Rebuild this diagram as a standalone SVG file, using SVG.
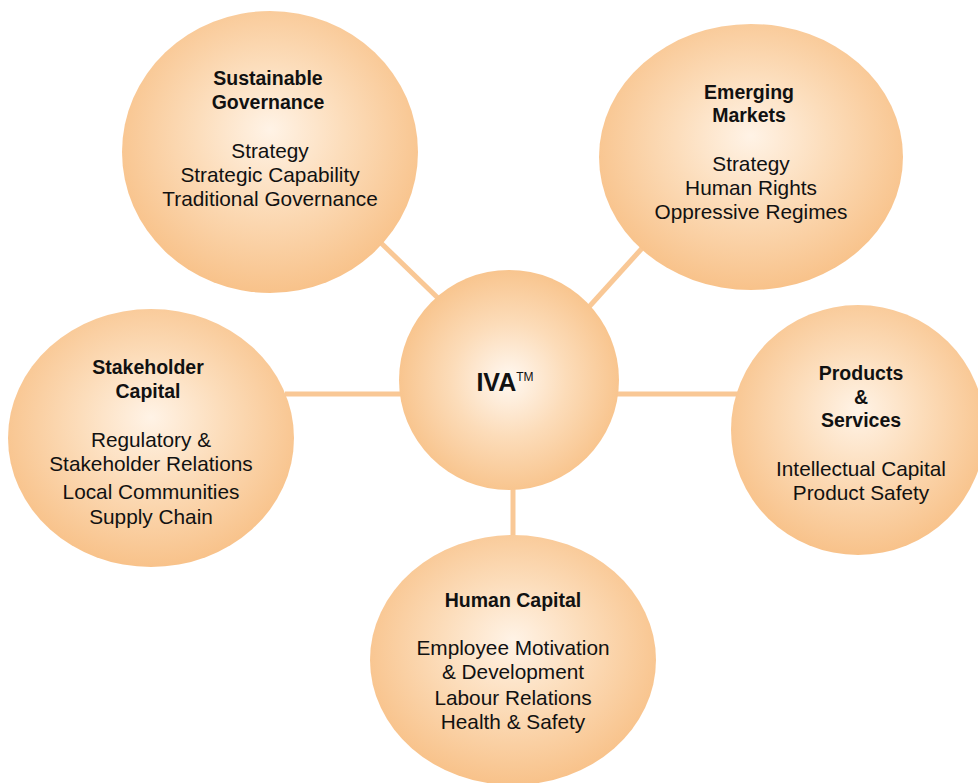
<svg xmlns="http://www.w3.org/2000/svg" width="978" height="783" viewBox="0 0 978 783">
  <defs>
    <radialGradient id="ball" cx="50%" cy="45%" r="55%" fx="50%" fy="42%">
      <stop offset="0" stop-color="#FFF3E6"/>
      <stop offset="0.45" stop-color="#FCDDBB"/>
      <stop offset="1" stop-color="#F8C28A"/>
    </radialGradient>
    <radialGradient id="hub" cx="50%" cy="50%" r="52%">
      <stop offset="0" stop-color="#FFF8F1"/>
      <stop offset="0.5" stop-color="#FCDCB9"/>
      <stop offset="1" stop-color="#F8C38B"/>
    </radialGradient>
  </defs>
  <style>
    .link { stroke: #F9C896; stroke-width: 5; fill: none; }
    .node { fill: url(#ball); }
    text { font-family: "Liberation Sans", Arial, sans-serif; fill: #111; text-anchor: middle; font-size: 20.8px; }
    .title { font-weight: bold; font-size: 19.5px; }
  </style>
  <rect width="978" height="783" fill="#FFFFFF"/>

  <g id="connectors">
    <line class="link" x1="380" y1="242" x2="440" y2="300"/>
    <line class="link" x1="645" y1="245" x2="588" y2="308"/>
    <line class="link" x1="285" y1="394" x2="402" y2="394"/>
    <line class="link" x1="617" y1="394" x2="740" y2="394"/>
    <line class="link" x1="513" y1="486" x2="513" y2="540"/>
  </g>

  <g id="iva">
    <circle cx="509" cy="380" r="110" fill="url(#hub)"/>
    <text x="505" y="391" class="title" style="font-size:25px">IVA<tspan dy="-10" style="font-size:12px;font-weight:normal">TM</tspan></text>
  </g>

  <g id="sustainable-governance">
    <ellipse class="node" cx="270" cy="152" rx="148" ry="141"/>
    <text class="title" x="268" y="85">Sustainable</text>
    <text class="title" x="268" y="109">Governance</text>
    <text x="270" y="158">Strategy</text>
    <text x="270" y="182">Strategic Capability</text>
    <text x="270" y="206">Traditional Governance</text>
  </g>

  <g id="emerging-markets">
    <ellipse class="node" cx="751" cy="157" rx="152" ry="133"/>
    <text class="title" x="749" y="99">Emerging</text>
    <text class="title" x="749" y="122">Markets</text>
    <text x="751" y="171">Strategy</text>
    <text x="751" y="195">Human Rights</text>
    <text x="751" y="219">Oppressive Regimes</text>
  </g>

  <g id="stakeholder-capital">
    <ellipse class="node" cx="151" cy="438" rx="143" ry="129"/>
    <text class="title" x="148" y="374">Stakeholder</text>
    <text class="title" x="148" y="398">Capital</text>
    <text x="151" y="447">Regulatory &amp;</text>
    <text x="151" y="471">Stakeholder Relations</text>
    <text x="151" y="499">Local Communities</text>
    <text x="151" y="524">Supply Chain</text>
  </g>

  <g id="products-services">
    <ellipse class="node" cx="858" cy="430" rx="127" ry="125"/>
    <text class="title" x="861" y="380">Products</text>
    <text class="title" x="861" y="404">&amp;</text>
    <text class="title" x="861" y="427">Services</text>
    <text x="861" y="476">Intellectual Capital</text>
    <text x="861" y="500">Product Safety</text>
  </g>

  <g id="human-capital">
    <ellipse class="node" cx="513" cy="660" rx="143" ry="125"/>
    <text class="title" x="513" y="607">Human Capital</text>
    <text x="513" y="655">Employee Motivation</text>
    <text x="513" y="679">&amp; Development</text>
    <text x="513" y="705">Labour Relations</text>
    <text x="513" y="729">Health &amp; Safety</text>
  </g>
</svg>
